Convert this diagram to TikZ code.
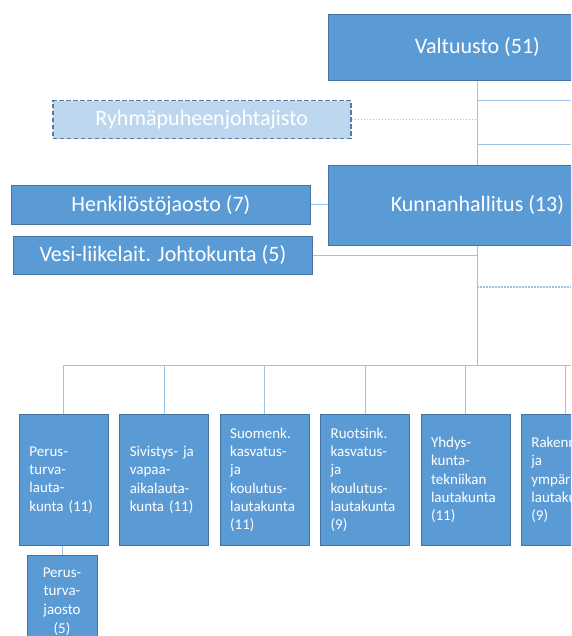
\documentclass[tikz,border=0pt]{standalone}
\usepackage{fontspec}
\setmainfont{Carlito}
\usetikzlibrary{positioning}

\definecolor{boxblue}{RGB}{91,155,213}
\definecolor{boxedge}{RGB}{70,115,160}
\definecolor{paleblue}{RGB}{189,215,238}
\definecolor{dashedge}{RGB}{90,122,165}
\definecolor{linkblue}{RGB}{157,195,230}

\tikzset{
  organ/.style={draw=boxedge, fill=boxblue, text=white, line width=0.8pt, inner sep=0pt,
    font=\fontsize{22}{26}\selectfont},
  bigorgan/.style={organ, anchor=north west, minimum width=298pt},
  board/.style={organ, text width=69pt, align=left, inner xsep=10pt, inner ysep=0pt,
    minimum height=131pt, font=\fontsize{15}{18.3}\selectfont},
  link/.style={draw=linkblue, line width=0.9pt},
  dotlink/.style={link, line width=1.1pt, dash pattern=on 1.6pt off 1.4pt},
}

\begin{document}
\begin{tikzpicture}[x=1pt,y=-1pt]
		%%%%% START %%%%%
		\useasboundingbox (0,0) rectangle (571,636);
		\clip (0,0) rectangle (571,636);
		
		\node[bigorgan, minimum height=66pt] (valt) at (328,14) {Valtuusto (51)};
		\node[bigorgan, minimum height=80pt] (kh) at (328,165) {Kunnanhallitus (13)};
		\node[organ, anchor=north west, minimum width=298pt, minimum height=38pt,
		  fill=paleblue, draw=dashedge, line width=1.5pt, dash pattern=on 4.5pt off 2.5pt] (ryhma) at (52,100) {Ryhmäpuheenjohtajisto};
		\node[bigorgan, minimum width=299pt, minimum height=39pt] (henk) at (11,185) {Henkilöstöjaosto (7)};
		\node[bigorgan, minimum width=299pt, minimum height=38pt] (vesi) at (13,236) {Vesi-liikelait. Johtokunta (5)};
		
		\node[board, anchor=north west] (b1) at (19,414) {Perus-\\turva-\\lauta-\\kunta (11)};
		\node[board, right=10.6pt of b1] (b2) {Sivistys- ja\\vapaa-\\aikalauta-\\kunta (11)};
		\node[board, right=10.6pt of b2] (b3) {Suomenk.\\kasvatus-\\ja\\koulutus-\\lautakunta\\(11)};
		\node[board, right=10.6pt of b3] (b4) {Ruotsink.\\kasvatus-\\ja\\koulutus-\\lautakunta\\(9)};
		\node[board, right=10.6pt of b4] (b5) {Yhdys-\\kunta-\\tekniikan\\lautakunta\\(11)};
		\node[board, right=10.6pt of b5] (b6) {Rakennus-\\ja\\ympäristö-\\lautakunta\\(9)};
		
		\node[organ, anchor=north, minimum width=70pt, minimum height=92pt, align=center,
		  font=\fontsize{15}{18.6}\selectfont] (jaosto) at (62,555) {Perus-\\turva-\\jaosto\\(5)};
		
		\coordinate (stubA) at (575,100);
		\coordinate (stubB) at (575,144);
		\coordinate (stubC) at (575,287);
		\coordinate (bus) at (575,365);
		
		\draw[link] (valt.south) -- (kh.north);
		\draw[link] (kh.south) -- (kh.south |- bus);
		\draw[link] (stubA -| valt.south) -- (stubA);
		\draw[link] (stubB -| valt.south) -- (stubB);
		\draw[dotlink] (stubC -| kh.south) -- (stubC);
		\draw[dotlink] (ryhma.east) -- (ryhma.east -| valt.south);
		\draw[link] (henk.east) -- (henk.east -| kh.west);
		\draw[link] (vesi.east) -- (vesi.east -| kh.south);
		\draw[link] (bus -| b1.north) -- (bus);
		\foreach \b in {b1,b2,b3,b4,b5,b6}
		  \draw[link] (\b.north) -- (\b.north |- bus);
		\draw[link] (b1.south -| jaosto.north) -- (jaosto.north);
		
		%%%%% END %%%%%
	\end{tikzpicture}
\end{document}
